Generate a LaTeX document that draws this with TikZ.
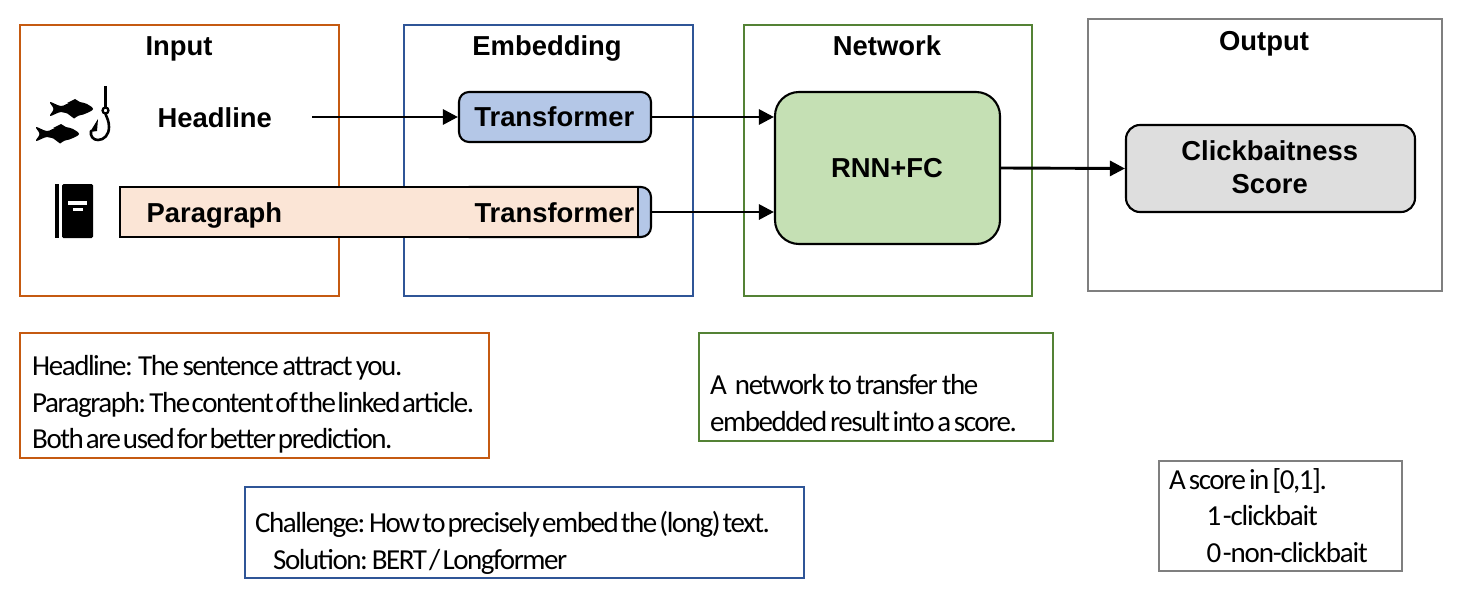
\documentclass[tikz,border=0pt]{standalone}
\usepackage{fontspec}
\setmainfont{Liberation Sans}
\newfontfamily\notefont[LetterSpace=-5]{Carlito}
\newfontfamily\notefontb[LetterSpace=-4]{Carlito}
\usetikzlibrary{arrows.meta,calc}
\definecolor{cin}{HTML}{C55A11}
\definecolor{cem}{HTML}{2F5597}
\definecolor{cnet}{HTML}{548235}
\definecolor{cout}{HTML}{7F7F7F}
\definecolor{cblue}{HTML}{B4C7E7}
\definecolor{cpeach}{HTML}{FBE5D6}
\definecolor{cgreen}{HTML}{C5E0B4}
\definecolor{cgrey}{HTML}{DEDEDE}
\newcommand{\wsp}[1]{\spaceskip=#1pt\relax}
\tikzset{
  frame/.style={draw,line width=2.8pt,minimum width=#1,inner sep=0pt},
  ttl/.style={font=\fontsize{27.4}{33}\selectfont\bfseries,inner sep=0pt,anchor=base},
  blk/.style={draw=black,line width=2.1pt,inner sep=0pt,font=\fontsize{27.4}{30}\selectfont\bfseries},
  note/.style={draw,line width=1.1pt,inner sep=0pt},
  notetext/.style={font=\notefont\fontsize{29}{36.7}\selectfont,align=left,anchor=north west,inner sep=0pt},
  flow/.style={line width=2.9pt,-{Triangle[length=15pt,width=15pt]}},
  ico/.style={fill=black,draw=none}
}
\newcommand{\fishshape}{
  plot[smooth cycle,tension=.6] coordinates {(0,0) (-6,-5) (-14,-7) (-23,-6.5) (-32,-3) (-43,-7) (-39.5,0) (-43,7) (-32,3) (-23,5.5) (-14,6.5) (-6,4)}
}
\begin{document}
\begin{tikzpicture}[x=1pt,y=-1pt]
\useasboundingbox (0,0) rectangle (1460,602);
% frames
\node[frame=319pt,draw=cin,minimum height=271pt] (input) at (179.5,160.5) {};
\node[frame=289pt,draw=cem,minimum height=271pt] (embed) at (548.5,160.5) {};
\node[frame=288pt,draw=cnet,minimum height=271pt] (net) at (888,160.5) {};
\node[frame=354pt,draw=cout,minimum height=272pt] (out) at (1265,155) {};
\node[ttl] (tin) at (179,56) {Input};
\node[ttl] (tem) at (547,56) {Embedding};
\node[ttl] (tnet) at (887,56) {Network};
\node[ttl] (tout) at (1264,51) {Output};
% blocks
\node[blk,fill=cblue,rounded corners=10pt,minimum width=192pt,minimum height=50pt] (t1) at (555,117) {\hspace*{-1.4pt}\raisebox{-0.5pt}{Transformer}};
\node[blk,fill=cblue,rounded corners=10pt,minimum width=192pt,minimum height=50pt] (t2back) at (555,212) {};
\node[blk,fill=cpeach,minimum width=518.5pt,minimum height=50pt,anchor=west] (para) at (118.5,212) {};
\node[ttl,anchor=west] (hl) at (157.5,118) {Headline};
\node[ttl,anchor=west] (pl) at (146.5,215.5) {Paragraph};
\node[ttl,anchor=west] (t2) at (474.3,213) {Transformer};
\node[blk,fill=cgreen,rounded corners=24pt,minimum width=225pt,minimum height=152pt] (rnn) at (887.5,168) {\hspace*{-1pt}\raisebox{-1pt}{RNN+FC}};
\node[blk,fill=cgrey,rounded corners=14pt,minimum width=289pt,minimum height=87pt] (score) at (1270.5,168.5) {};
\node[ttl,anchor=center,align=center] (scoret) at (1269.7,167.5) {Clickbaitness\\Score};
% connectors
\coordinate (hs) at (312,117);
\draw[flow] (hs) -- (t1.west);
\draw[flow] (t1.east) -- (t1.east -| rnn.west);
\draw[flow] (t2back.east) -- (t2back.east -| rnn.west);
\draw[flow] (rnn.east) -- (score.west);
% notes
\node[note,draw=cin,minimum width=469pt,minimum height=125pt] (n1) at (254.5,395.5) {};
\node[notetext] (n1t) at (32,355) {\wsp{3.5}Headline: The sentence attract you.\\\wsp{1.5}Paragraph: The content of the linked article.\\\wsp{2}Both are used for better prediction.};
\node[note,draw=cem,minimum width=559pt,minimum height=91pt] (n2) at (524.5,532.5) {};
\node[notetext] (n2t) at (255,511) {\wsp{2.1}Challenge: How to precisely embed the (long) text.\\\hspace*{18pt}\wsp{2.2}Solution: BERT / Longformer};
\node[note,draw=cnet,minimum width=354pt,minimum height=108pt] (n3) at (876,387) {};
\node[notetext] (n3t) at (710,374) {\wsp{4}A~ network to transfer the\\\wsp{2.7}embedded result into a score.};
\node[note,draw=cout,minimum width=243pt,minimum height=110pt] (n4) at (1280.5,516) {};
\node[notetext] (n4t) at (1169,468) {\wsp{3}A score in [0,1].\\\notefontb\hspace*{37.5pt}\wsp{1.5}1 -clickbait\\\notefontb\hspace*{37.5pt}\wsp{1.5}0 -non-clickbait};
% fish & hook icon
\begin{scope}[shift={(93,109)}]
  \fill[ico] \fishshape;
  \fill[ico] (-26,-6) -- (-18,-10) -- (-10,-5) -- cycle;
  \fill[ico] (-25,5) -- (-19,9.5) -- (-12,5) -- cycle;
\end{scope}
\begin{scope}[shift={(79,134)}]
  \fill[ico] \fishshape;
  \fill[ico] (-26,-6) -- (-18,-10) -- (-10,-5) -- cycle;
  \fill[ico] (-25,5) -- (-19,9.5) -- (-12,5) -- cycle;
\end{scope}
\draw[line width=2.6pt] (105.5,86) -- (105.5,108);
\draw[line width=2.2pt,fill=white] (105.5,110.5) circle (3pt);
\draw[line width=2.6pt,line cap=round] (105.5,114) .. controls (107,118) and (109,121) .. (109,127) .. controls (109,135) and (104,140) .. (98,140) .. controls (93,140) and (90,136) .. (91,131);
\fill[ico] (90,132) -- (98,119) -- (97,131) -- cycle;
% book icon
\fill[ico] (55,184) rectangle (59,238);
\fill[ico,rounded corners=1.5pt] (62,184) rectangle (93,238);
\fill[white] (68,201) rectangle (87,204.5);
\fill[white] (72.5,208) rectangle (83,210.5);
\end{tikzpicture}
\end{document}
